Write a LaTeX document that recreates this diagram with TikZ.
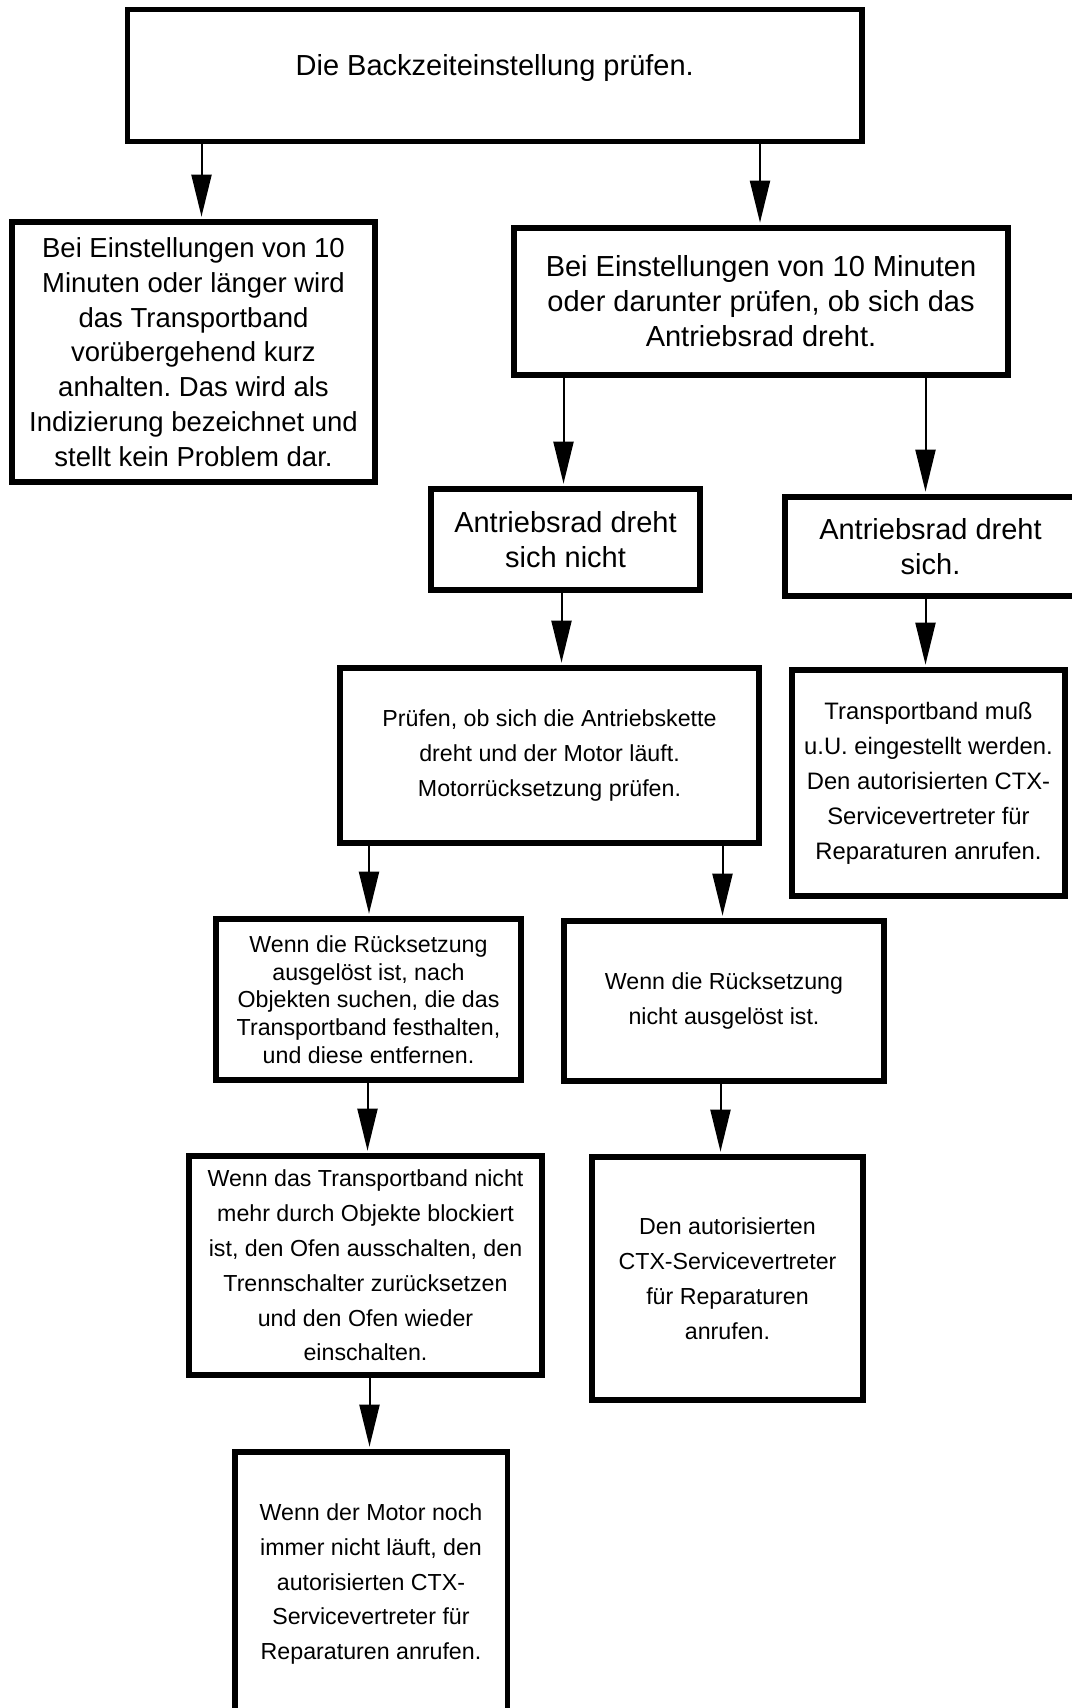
\documentclass[tikz,border=0pt]{standalone}
\usepackage{fontspec}
\setmainfont{Liberation Sans}
\usetikzlibrary{arrows.meta}
\frenchspacing
\tikzset{
  box/.style={draw=black, line width=2.75pt, rectangle, inner sep=0pt, align=center, fill=none},
  bigtxt/.style={font=\fontsize{14.5pt}{17.5pt}\selectfont},
  midtxt/.style={font=\fontsize{13.75pt}{17.4pt}\selectfont},
  smalltxt/.style={font=\fontsize{11.6pt}{17.4pt}\selectfont},
  tighttxt/.style={font=\fontsize{11.6pt}{13.8pt}\selectfont},
  arr/.style={line width=1pt, -{Triangle[length=21pt,width=10pt]}, shorten >=1.3pt}
}
\begin{document}
\begin{tikzpicture}[x=0.5pt,y=-0.5pt]
\useasboundingbox[fill=white] (0,0) rectangle (1071,1708);

% boxes
\node[box, bigtxt, minimum width=367.25pt, minimum height=66pt, text depth=11pt] (top) at (494.75,75.5) {Die Backzeiteinstellung prüfen.};
\node[box, midtxt, minimum width=181.5pt, minimum height=130pt] (left) at (193.5,352) {Bei Einstellungen von 10\\Minuten oder länger wird\\das Transportband\\vorübergehend kurz\\anhalten. Das wird als\\Indizierung bezeichnet und\\stellt kein Problem dar.};
\node[box, bigtxt, minimum width=247pt, minimum height=73.5pt] (check) at (761,301.5) {Bei Einstellungen von 10 Minuten\\oder darunter prüfen, ob sich das\\Antriebsrad dreht.};
\node[box, bigtxt, minimum width=134.5pt, minimum height=50.5pt] (notturn) at (565.5,539.5) {Antriebsrad dreht\\sich nicht};
\node[box, bigtxt, minimum width=145.5pt, minimum height=49.5pt] (turns) at (930.5,546.5) {Antriebsrad dreht\\sich.};
\node[box, smalltxt, minimum width=209.5pt, minimum height=87.5pt] (chain) at (549.5,755.5) {Prüfen, ob sich die Antriebskette\\dreht und der Motor läuft.\\Motorrücksetzung prüfen.};
\node[box, font=\fontsize{11.9pt}{17.5pt}\selectfont, minimum width=136.5pt, minimum height=113pt] (adjust) at (928.5,783) {Transportband muß\\u.U. eingestellt werden.\\Den autorisierten CTX-\\Servicevertreter für\\Reparaturen anrufen.};
\node[box, tighttxt, minimum width=152.5pt, minimum height=80.5pt] (tripped) at (368.5,999.5) {Wenn die Rücksetzung\\ausgelöst ist, nach\\Objekten suchen, die das\\Transportband festhalten,\\und diese entfernen.};
\node[box, smalltxt, minimum width=160pt, minimum height=80pt] (nottripped) at (724,1001) {Wenn die Rücksetzung\\nicht ausgelöst ist.};
\node[box, smalltxt, minimum width=176.5pt, minimum height=109.5pt] (reset) at (365.5,1265.5) {Wenn das Transportband nicht\\mehr durch Objekte blockiert\\ist, den Ofen ausschalten, den\\Trennschalter zurücksetzen\\und den Ofen wieder\\einschalten.};
\node[box, smalltxt, minimum width=135.5pt, minimum height=121.5pt] (call1) at (727.5,1278.5) {Den autorisierten\\CTX-Servicevertreter\\für Reparaturen\\anrufen.};
\node[box, smalltxt, minimum width=136.25pt, minimum height=132pt] (call2) at (371,1584) {Wenn der Motor noch\\immer nicht läuft, den\\autorisierten CTX-\\Servicevertreter für\\Reparaturen anrufen.};

% arrow columns
\coordinate (c1) at (201.5,0);
\coordinate (c2) at (760,0);
\coordinate (c3) at (563.5,0);
\coordinate (c4) at (925.5,0);
\coordinate (c5) at (561.5,0);
\coordinate (c6) at (369,0);
\coordinate (c7) at (722.5,0);
\coordinate (c8) at (367.5,0);
\coordinate (c9) at (720.5,0);
\coordinate (c10) at (369.5,0);

\draw[arr] (top.south -| c1) -- (left.north -| c1);
\draw[arr] (top.south -| c2) -- (check.north -| c2);
\draw[arr] (check.south -| c3) -- (notturn.north -| c3);
\draw[arr] (check.south -| c4) -- (turns.north -| c4);
\draw[arr] (notturn.south -| c5) -- (chain.north -| c5);
\draw[arr] (turns.south -| c4) -- (adjust.north -| c4);
\draw[arr] (chain.south -| c6) -- (tripped.north -| c6);
\draw[arr] (chain.south -| c7) -- (nottripped.north -| c7);
\draw[arr] (tripped.south -| c8) -- (reset.north -| c8);
\draw[arr] (nottripped.south -| c9) -- (call1.north -| c9);
\draw[arr] (reset.south -| c10) -- (call2.north -| c10);
\end{tikzpicture}
\end{document}
